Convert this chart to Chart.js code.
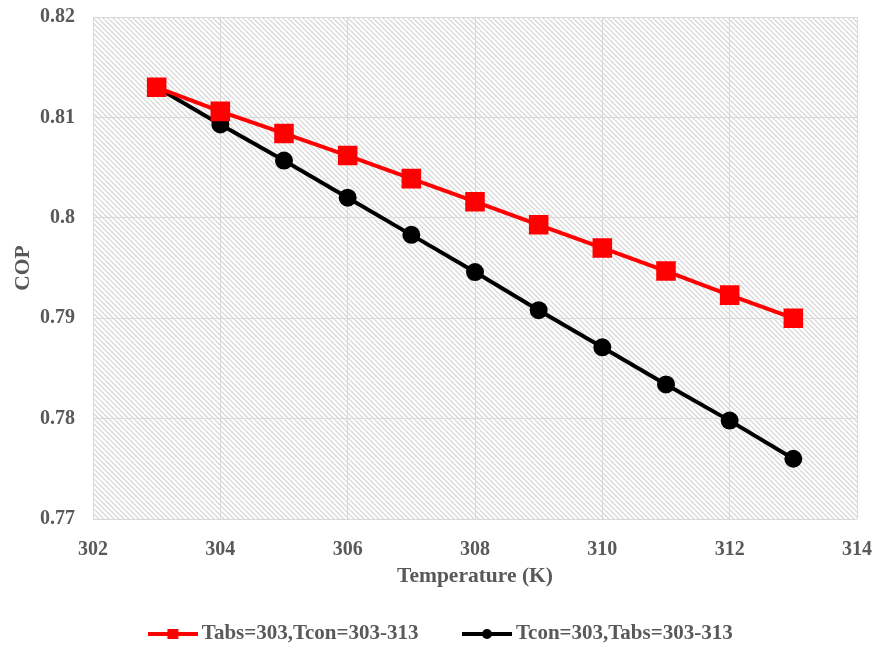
<!DOCTYPE html>
<html>
<head>
<meta charset="utf-8">
<script src="https://cdn.jsdelivr.net/npm/chart.js@4.4.1/dist/chart.umd.min.js"></script>
<style>
    html, body { margin: 0; padding: 0; background: #ffffff; overflow: hidden; }
    #wrap { width: 876px; height: 647px; }
</style>
</head>
<body>
<div id="wrap"><canvas id="copChart" width="876" height="647"></canvas></div>
<script>
// Chart data
const temperatures = [303, 304, 305, 306, 307, 308, 309, 310, 311, 312, 313];
const copTcon = [0.8130, 0.8106, 0.8084, 0.8062, 0.8039, 0.8016, 0.7993, 0.7970, 0.7947, 0.7923, 0.7900];
const copTabs = [0.8130, 0.8093, 0.8057, 0.8020, 0.7983, 0.7946, 0.7908, 0.7871, 0.7834, 0.7798, 0.7760];
const seriesNames = ['Tabs=303,Tcon=303-313', 'Tcon=303,Tabs=303-313'];
const yTickLabels = ['0.77', '0.78', '0.79', '0.8', '0.81', '0.82'];
const xTickLabels = ['302', '304', '306', '308', '310', '312', '314'];

const textGray = '#595959';
const gridGray = '#d9d9d9';
const fontFamily = '"Liberation Serif", "Times New Roman", serif';

// Hatched background for the plot area
function makeHatch() {
    const c = document.createElement('canvas');
    c.width = 10;
    c.height = 10;
    const g = c.getContext('2d');
    g.fillStyle = '#ffffff';
    g.fillRect(0, 0, 10, 10);
    g.strokeStyle = '#dadada';
    g.lineWidth = 1.4;
    for (let k = -10; k <= 10; k += 5) {
        g.beginPath();
        g.moveTo(k, 0);
        g.lineTo(k + 10, 10);
        g.stroke();
    }
    return c;
}

// Small line + marker icon for the legend
function legendIcon(color, shape) {
    const c = document.createElement('canvas');
    c.width = 50;
    c.height = 14;
    const g = c.getContext('2d');
    g.strokeStyle = color;
    g.fillStyle = color;
    g.lineWidth = 4;
    g.beginPath();
    g.moveTo(0, 7);
    g.lineTo(50, 7);
    g.stroke();
    if (shape === 'rect') {
        g.fillRect(19.5, 2, 11, 10);
    } else {
        g.beginPath();
        g.arc(25, 7, 5, 0, Math.PI * 2);
        g.fill();
    }
    return c;
}

const hatchPlugin = {
    id: 'hatch',
    beforeDraw(chart) {
        const area = chart.chartArea;
        const ctx = chart.ctx;
        ctx.save();
        ctx.fillStyle = ctx.createPattern(makeHatch(), 'repeat');
        ctx.fillRect(area.left, area.top, area.right - area.left, area.bottom - area.top);
        ctx.restore();
    }
};

// nudge the legend row a bit to the right (trailing padding pulls it left)
const legendShift = {
    id: 'legendShift',
    afterLayout(chart) {
        if (chart.legend) {
            chart.legend.left += 15;
            chart.legend.right += 15;
        }
    }
};

const icons = [legendIcon('#ff0000', 'rect'), legendIcon('#000000', 'circle')];

new Chart(document.getElementById('copChart'), {
    type: 'line',
    data: {
        labels: temperatures,
        datasets: [
            {
                label: seriesNames[0],
                data: temperatures.map((t, i) => ({ x: t, y: copTcon[i] })),
                borderColor: '#ff0000',
                backgroundColor: '#ff0000',
                borderWidth: 4,
                pointStyle: 'rect',
                pointRadius: 11,
                pointHoverRadius: 11,
                tension: 0
            },
            {
                label: seriesNames[1],
                data: temperatures.map((t, i) => ({ x: t, y: copTabs[i] })),
                borderColor: '#000000',
                backgroundColor: '#000000',
                borderWidth: 4,
                pointStyle: 'circle',
                pointRadius: 7,
                pointHoverRadius: 7,
                tension: 0
            }
        ]
    },
    options: {
        responsive: false,
        animation: false,
        layout: {
            padding: { left: 0, top: 17, right: 19, bottom: 0 }
        },
        plugins: {
            tooltip: { enabled: false },
            legend: {
                position: 'bottom',
                maxHeight: 73.5,
                labels: {
                    color: textGray,
                    font: { family: fontFamily, size: 21, weight: 'bold' },
                    usePointStyle: true,
                    pointStyleWidth: 37,
                    padding: 50,
                    generateLabels(chart) {
                        return chart.data.datasets.map((ds, i) => ({
                            text: ds.label,
                            fillStyle: ds.borderColor,
                            strokeStyle: ds.borderColor,
                            fontColor: textGray,
                            pointStyle: icons[i],
                            lineWidth: 0,
                            hidden: false,
                            datasetIndex: i
                        }));
                    }
                }
            }
        },
        scales: {
            x: {
                type: 'linear',
                min: 302,
                max: 314,
                afterBuildTicks(scale) {
                    scale.ticks = xTickLabels.map(v => ({ value: Number(v) }));
                },
                afterFit(scale) {
                    scale.height = 54.5;
                    scale.paddingLeft = 0;
                    scale.paddingRight = 0;
                },
                ticks: {
                    color: textGray,
                    font: { family: fontFamily, size: 20, weight: 'bold' },
                    padding: 19,
                    maxRotation: 0,
                    callback: (v) => String(v)
                },
                grid: { color: gridGray, drawTicks: false },
                border: { display: false },
                title: {
                    display: true,
                    text: 'Temperature (K)',
                    color: textGray,
                    padding: { top: 0, bottom: -16 },
                    font: { family: fontFamily, size: 21.5, weight: 'bold' }
                }
            },
            y: {
                min: 0.77,
                max: 0.82,
                afterBuildTicks(scale) {
                    scale.ticks = yTickLabels.map(v => ({ value: Number(v) }));
                },
                afterFit(scale) {
                    scale.width = 93;
                    scale.paddingTop = 0;
                    scale.paddingBottom = 0;
                },
                ticks: {
                    color: textGray,
                    font: { family: fontFamily, size: 20, weight: 'bold' },
                    padding: 18,
                    callback: (v) => yTickLabels.find(s => Math.abs(Number(s) - v) < 1e-9) || ''
                },
                grid: { color: gridGray, drawTicks: false },
                border: { display: false },
                title: {
                    display: true,
                    text: 'COP',
                    color: textGray,
                    padding: { top: 11, bottom: 0 },
                    font: { family: fontFamily, size: 21.5, weight: 'bold' }
                }
            }
        }
    },
    plugins: [hatchPlugin, legendShift]
});
</script>
</body>
</html>
